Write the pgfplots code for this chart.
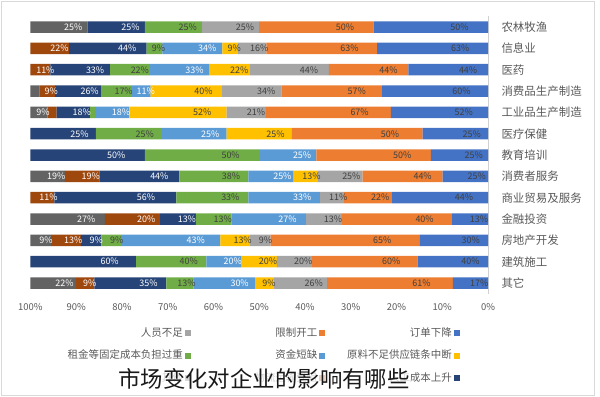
\documentclass[border=0pt]{standalone}
\usepackage{pgfplots}
\pgfplotsset{compat=1.18}
\usepackage{pgfplotstable}
\usepackage{fontspec}
\setmainfont{Noto Sans CJK SC}
\definecolor{cA}{HTML}{4472C4}
\definecolor{cB}{HTML}{ED7D31}
\definecolor{cC}{HTML}{A5A5A5}
\definecolor{cD}{HTML}{FFC000}
\definecolor{cE}{HTML}{5B9BD5}
\definecolor{cF}{HTML}{70AD47}
\definecolor{cG}{HTML}{264478}
\definecolor{cH}{HTML}{9E480E}
\definecolor{cI}{HTML}{636363}
\definecolor{txt}{HTML}{595959}
\definecolor{lab}{HTML}{404040}
\pgfplotstableread{
y a b c d e f g h i s
13 50 50 25 0 0 25 25 0 25 200
12 63 63 16 9 34 9 44 22 0 260
11 44 44 44 22 33 22 33 11 0 253
10 60 57 34 40 11 17 26 9 5 259
9 52 67 21 52 18 3 18 5 9 245
8 25 50 0 25 25 25 25 0 0 175
7 25 50 0 0 25 50 50 0 0 200
6 25 44 25 13 25 38 44 19 19 252
5 44 22 11 0 33 33 56 11 0 210
4 13 40 13 0 27 13 13 20 27 166
3 30 65 9 13 43 9 9 13 9 200
2 40 60 20 20 20 40 60 0 0 260
1 17 61 26 9 30 13 35 9 22 222
}\datatable
\newcommand\seg[3]{%
  \addplot[fill=#2, draw=none, forget plot,
    point meta=explicit symbolic,
    visualization depends on={25*\thisrow{#1}/\thisrow{s} \as \halfw},
    nodes near coords={\ifdim\pgfplotspointmeta pt<5.5pt\else\pgfplotspointmeta\%\fi},
    every node near coord/.append style={text=#3, anchor=center, inner sep=0pt,
      font=\fontsize{9}{10}\selectfont,
      shift={(axis direction cs:\halfw,0)}},
  ] table[x expr=-100*\thisrow{#1}/\thisrow{s}, y=y, meta=#1] {\datatable};
}
\newcommand\lent[1]{\addlegendentry{\makebox[128.5bp][r]{#1\hspace{2bp}}}}
\begin{document}
\begin{tikzpicture}
\path[use as bounding box] (0,0) rectangle (600bp,397bp);
\draw[black!15] (1.5bp,1.5bp) rectangle (594bp,395.5bp);
\begin{axis}[
  at={(30bp,103.3bp)}, anchor=south west,
  scale only axis, width=458bp, height=277.3bp,
  xbar stacked, bar width=11.5bp,
  xmin=-100.1, xmax=0, ymin=0.5, ymax=13.5,
  axis y line*=right, axis x line*=bottom,
  x axis line style={draw=none},
  y axis line style={draw=black!18},
  tick style={draw=none},
  xtick={-100,-90,...,0},
  xticklabels={100\%,90\%,80\%,70\%,60\%,50\%,40\%,30\%,20\%,10\%,0\%},
  xticklabel style={text=txt, font=\fontsize{9.5}{11}\selectfont, yshift=-6bp},
  ytick={1,...,13},
  yticklabels={其它,建筑施工,房地产开发,金融投资,商业贸易及服务,消费者服务,教育培训,医疗保健,工业品生产制造,消费品生产制造,医药,信息业,农林牧渔},
  yticklabel style={text=txt, font=\fontsize{11.5}{13}\selectfont, anchor=west, xshift=10bp},
  legend columns=3,
  legend plot pos=right,
  legend image code/.code={\fill (0bp,-3bp) rectangle (6bp,3bp);},
  legend style={at={(0.9389,-0.1237)}, anchor=north east, draw=none, fill=none,
    column sep=0pt, row sep=12.5bp, inner sep=0pt,
    nodes={inner sep=0pt, text height=8bp, text depth=2bp,
      font=\fontsize{10.5}{12}\selectfont, text=txt}},
]
\seg{a}{cA}{lab}
\seg{b}{cB}{lab}
\seg{c}{cC}{lab}
\seg{d}{cD}{lab}
\seg{e}{cE}{white}
\seg{f}{cF}{lab}
\seg{g}{cG}{white}
\seg{h}{cH}{white}
\seg{i}{cI}{white}
\addlegendimage{fill=cC, draw=none}\lent{人员不足}
\addlegendimage{fill=cB, draw=none}\lent{限制开工}
\addlegendimage{fill=cA, draw=none}\lent{订单下降}
\addlegendimage{fill=cF, draw=none}\lent{租金等固定成本负担过重}
\addlegendimage{fill=cE, draw=none}\lent{资金短缺}
\addlegendimage{fill=cD, draw=none}\lent{原料不足供应链条中断}
\addlegendimage{fill=cI, draw=none}\lent{其他}
\addlegendimage{fill=cH, draw=none}\lent{物流运输受阻}
\addlegendimage{fill=cG, draw=none}\lent{人工成本上升}
\end{axis}
\node[fill=white, fill opacity=0.75, text opacity=1, inner sep=1bp, text=black!90,
  font=\fontsize{22.5}{24}\selectfont] at (264bp,18.5bp) {市场变化对企业的影响有哪些};
\end{tikzpicture}
\end{document}
